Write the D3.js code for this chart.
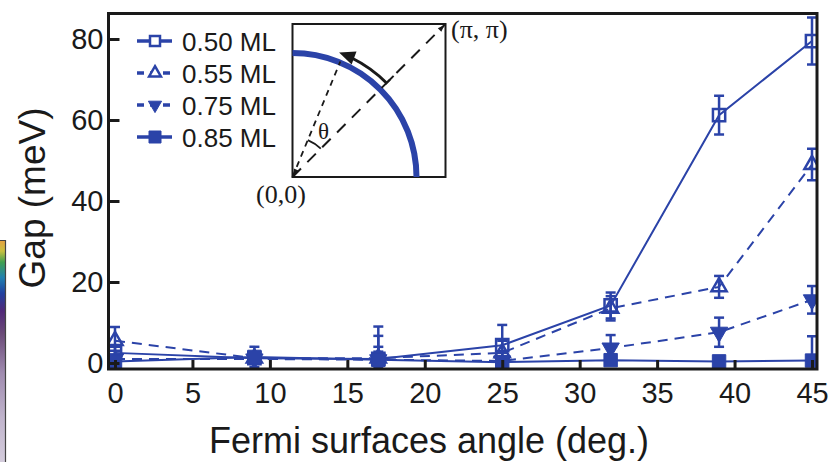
<!DOCTYPE html>
<html>
<head>
<meta charset="utf-8">
<script src="https://cdn.jsdelivr.net/npm/d3@7/dist/d3.min.js"></script>
<style>
  body { margin: 0; background: #fff; }
  svg { display: block; font-family: "Liberation Sans", Arial, sans-serif; }
</style>
</head>
<body>
<svg width="831" height="462"></svg>
<script>
var width = 831, height = 462

// data
var angles = [0, 9, 17, 25, 32, 39, 45]
var xTicks = [0, 5, 10, 15, 20, 25, 30, 35, 40, 45]
var yTicks = [0, 20, 40, 60, 80]

var labels = ['0.50 ML', '0.55 ML', '0.75 ML', '0.85 ML']
var gap050 = [2.5, 1.2, 1.0, 4.4, 14.2, 61.2, 79.5]
var err050 = [1.5, 1.0, 8.0, 5.0, 3.2, 4.8, 5.8]
var gap055 = [5.5, 1.2, 1.2, 2.5, 13.5, 18.8, 49.0]
var err055 = [3.4, 1.0, 5.5, 3.0, 3.0, 2.7, 3.9]
var gap075 = [1.0, 1.0, 0.8, 0.5, 3.7, 7.6, 15.6]
var err075 = [2.0, 1.0, 3.2, 2.0, 3.2, 3.6, 3.4]
var gap085 = [0.4, 1.5, 0.8, 0.2, 0.7, 0.4, 0.6]
var err085 = [1.5, 2.5, 2.0, 1.0, 1.0, 1.0, 6.0]

var blue = '#2b43a8'

var series = [
  {name: labels[0], vals: gap050, errs: err050, dash: null, sym: d3.symbolSquare, size: 150, legSize: 100, fill: false, rot: 0},
  {name: labels[1], vals: gap055, errs: err055, dash: '10,7', sym: d3.symbolTriangle, size: 100, legSize: 60, fill: false, rot: 0},
  {name: labels[2], vals: gap075, errs: err075, dash: '10,7', sym: d3.symbolTriangle, size: 130, legSize: 75, fill: true, rot: 180},
  {name: labels[3], vals: gap085, errs: err085, dash: null, sym: d3.symbolSquare, size: 180, legSize: 144, fill: true, rot: 0},
]

var pLeft = 108.5, pRight = 817, pTop = 13.5, pBottom = 369

var x = d3.scaleLinear().domain([0, 45]).range([115, 812])
var y = d3.scaleLinear().domain([0, 80]).range([363, 39])

var svg = d3.select('svg')

// bit of a colour bar from the neighbouring panel
var grad = svg.append('defs').append('linearGradient')
  .attr('id', 'cbar').attr('x1', 0).attr('y1', 0).attr('x2', 0).attr('y2', 1)
var stops = [[0, '#e8a040'], [0.05, '#c8c040'], [0.1, '#40a050'], [0.17, '#2080b0'], [0.24, '#2040a0'],
             [0.32, '#502878'], [0.42, '#6a4a78'], [0.6, '#a08cb0'], [0.8, '#c0b4cc'], [1, '#d4ccdc']]
grad.selectAll('stop').data(stops).join('stop')
  .attr('offset', function(d) { return d[0] })
  .attr('stop-color', function(d) { return d[1] })
svg.append('rect').attr('x', 0).attr('y', 240).attr('width', 5).attr('height', 222).attr('fill', 'url(#cbar)')
svg.append('path').attr('d', 'M0,240.5H5.5V462').attr('fill', 'none').attr('stroke', '#444').attr('stroke-width', 1.2)

svg.append('clipPath').attr('id', 'plotclip').append('rect')
  .attr('x', pLeft).attr('y', pTop).attr('width', pRight - pLeft).attr('height', pBottom - pTop)

var plot = svg.append('g').attr('clip-path', 'url(#plotclip)')

var line = d3.line()
  .x(function(d, i) { return x(angles[i]) })
  .y(function(d) { return y(d) })

series.forEach(function(s) {
  var g = plot.append('g')
  g.append('path')
    .attr('d', line(s.vals))
    .attr('fill', 'none')
    .attr('stroke', blue)
    .attr('stroke-width', 2)
    .attr('stroke-dasharray', s.dash)

  var eb = g.selectAll('.eb').data(s.vals).join('g').attr('class', 'eb')
  eb.append('line')
    .attr('x1', function(d, i) { return x(angles[i]) })
    .attr('x2', function(d, i) { return x(angles[i]) })
    .attr('y1', function(d, i) { return y(d - s.errs[i]) })
    .attr('y2', function(d, i) { return y(d + s.errs[i]) })
  eb.append('line')
    .attr('x1', function(d, i) { return x(angles[i]) - 5 })
    .attr('x2', function(d, i) { return x(angles[i]) + 5 })
    .attr('y1', function(d, i) { return y(d + s.errs[i]) })
    .attr('y2', function(d, i) { return y(d + s.errs[i]) })
  eb.append('line')
    .attr('x1', function(d, i) { return x(angles[i]) - 5 })
    .attr('x2', function(d, i) { return x(angles[i]) + 5 })
    .attr('y1', function(d, i) { return y(d - s.errs[i]) })
    .attr('y2', function(d, i) { return y(d - s.errs[i]) })
  eb.selectAll('line').attr('stroke', blue).attr('stroke-width', 2.5)

  g.selectAll('.mk').data(s.vals).join('path').attr('class', 'mk')
    .attr('d', d3.symbol().type(s.sym).size(s.size))
    .attr('transform', function(d, i) {
      return 'translate(' + x(angles[i]) + ',' + y(d) + ') rotate(' + s.rot + ')'
    })
    .attr('fill', s.fill ? blue : '#fff')
    .attr('fill-opacity', s.fill ? 1 : 0)
    .attr('stroke', blue)
    .attr('stroke-width', s.fill ? 1 : 2.5)
})

// axes, ticks pointing inward
var yAxis = d3.axisLeft(y).tickValues(yTicks).tickSize(-11).tickPadding(5)
var xAxis = d3.axisBottom(x).tickValues(xTicks).tickSize(-9).tickPadding(13)

var ga = svg.append('g').attr('transform', 'translate(' + pLeft + ',0)').call(yAxis)
var gb = svg.append('g').attr('transform', 'translate(0,' + pBottom + ')').call(xAxis)
;[ga, gb].forEach(function(g) {
  g.select('.domain').remove()
  g.selectAll('.tick line').attr('stroke', '#1a1a1a').attr('stroke-width', 3)
  g.selectAll('.tick text')
    .attr('fill', '#1a1a1a')
    .style('font-size', '29px')
    .style('font-family', '"Liberation Sans", Arial, sans-serif')
})

// frame
svg.append('rect')
  .attr('x', pLeft).attr('y', pTop).attr('width', pRight - pLeft).attr('height', pBottom - pTop)
  .attr('fill', 'none').attr('stroke', '#1a1a1a').attr('stroke-width', 3)

svg.append('text')
  .attr('x', 429).attr('y', 453)
  .attr('text-anchor', 'middle')
  .style('font-size', '36px')
  .attr('fill', '#1a1a1a')
  .text('Fermi surfaces angle (deg.)')

svg.append('text')
  .attr('transform', 'translate(45,198) rotate(-90)')
  .attr('text-anchor', 'middle')
  .style('font-size', '37px')
  .attr('fill', '#1a1a1a')
  .text('Gap (meV)')

// legend
var leg = svg.append('g')
var rowY = d3.scalePoint().domain(labels).range([41, 137])
series.forEach(function(s) {
  var yy = rowY(s.name)
  leg.append('line')
    .attr('x1', 137).attr('x2', 172).attr('y1', yy).attr('y2', yy)
    .attr('stroke', blue).attr('stroke-width', 3.5)
    .attr('stroke-dasharray', s.dash ? '7,6' : null)
  leg.append('path')
    .attr('d', d3.symbol().type(s.sym).size(s.legSize)())
    .attr('transform', 'translate(155,' + yy + ') rotate(' + s.rot + ')')
    .attr('fill', s.fill ? blue : '#fff')
    .attr('stroke', blue)
    .attr('stroke-width', s.fill ? 1 : 2.5)
  leg.append('text')
    .attr('x', 182).attr('y', yy + 9.5)
    .style('font-size', '26px')
    .attr('fill', '#1a1a1a')
    .text(s.name)
})

// inset: Fermi surface sketch
var ox = 292.5, oy = 177, side = 153, fr = 124
var inset = svg.append('g')
inset.append('rect')
  .attr('x', ox).attr('y', oy - side).attr('width', side).attr('height', side)
  .attr('fill', '#fff').attr('stroke', '#1a1a1a').attr('stroke-width', 2)
inset.append('path')
  .attr('d', 'M' + (ox + fr) + ',' + oy + ' A' + fr + ',' + fr + ' 0 0 0 ' + ox + ',' + (oy - fr))
  .attr('fill', 'none').attr('stroke', blue).attr('stroke-width', 6)

function pt(r, deg) {
  var a = deg * Math.PI / 180
  return [ox + r * Math.cos(a), oy - r * Math.sin(a)]
}
var th = 67.5
var diagEnd = [ox + side, oy - side]
inset.append('line')
  .attr('x1', ox).attr('y1', oy).attr('x2', diagEnd[0]).attr('y2', diagEnd[1])
  .attr('stroke', '#1a1a1a').attr('stroke-width', 2).attr('stroke-dasharray', '12,9')
var kEnd = pt(125, th)
inset.append('line')
  .attr('x1', ox).attr('y1', oy).attr('x2', kEnd[0]).attr('y2', kEnd[1])
  .attr('stroke', '#1a1a1a').attr('stroke-width', 1.8).attr('stroke-dasharray', '6,5')

// small arrow heads at both corners
function head(p, deg, len, w) {
  var a = deg * Math.PI / 180
  var dx = Math.cos(a), dy = -Math.sin(a)
  var bx = p[0] - dx * len, by = p[1] - dy * len
  return 'M' + p[0] + ',' + p[1] + 'L' + (bx - dy * w) + ',' + (by + dx * w) +
    'L' + (bx + dy * w) + ',' + (by - dx * w) + 'Z'
}
inset.append('path').attr('d', head([ox + 1, oy - 1], th + 180, 7, 2.5)).attr('fill', '#1a1a1a')
inset.append('path').attr('d', head([diagEnd[0] - 1, diagEnd[1] + 1], 45, 7, 2.5)).attr('fill', '#1a1a1a')

// angle mark
var a1 = pt(40, 45), a2 = pt(40, th)
inset.append('path')
  .attr('d', 'M' + a1[0] + ',' + a1[1] + ' A40,40 0 0 0 ' + a2[0] + ',' + a2[1])
  .attr('fill', 'none').attr('stroke', '#1a1a1a').attr('stroke-width', 1.8)
inset.append('text')
  .attr('x', 318).attr('y', 139)
  .style('font-family', '"Liberation Serif", "DejaVu Serif", serif')
  .style('font-size', '23px')
  .attr('fill', '#1a1a1a')
  .text('θ')

// curved black arrow along the Fermi surface
var ar = 133, c1 = pt(ar, 45), c2 = pt(ar, th - 4)
inset.append('path')
  .attr('d', 'M' + c1[0] + ',' + c1[1] + ' A' + ar + ',' + ar + ' 0 0 0 ' + c2[0] + ',' + c2[1])
  .attr('fill', 'none').attr('stroke', '#1a1a1a').attr('stroke-width', 3)
var f1 = pt(143, 45)
inset.append('line')
  .attr('x1', c1[0] - 1).attr('y1', c1[1] + 1).attr('x2', f1[0]).attr('y2', f1[1])
  .attr('stroke', '#1a1a1a').attr('stroke-width', 2)
var tip = pt(ar, th + 2)
inset.append('path').attr('d', head(tip, th + 2 + 90, 16, 7)).attr('fill', '#1a1a1a')

inset.append('text')
  .attr('x', 451).attr('y', 38)
  .style('font-family', '"Liberation Serif", "DejaVu Serif", serif')
  .style('font-size', '26px')
  .attr('fill', '#1a1a1a')
  .text('(π, π)')
inset.append('text')
  .attr('x', 256).attr('y', 203)
  .style('font-family', '"Liberation Serif", "DejaVu Serif", serif')
  .style('font-size', '26px')
  .attr('fill', '#1a1a1a')
  .text('(0,0)')
</script>
</body>
</html>
